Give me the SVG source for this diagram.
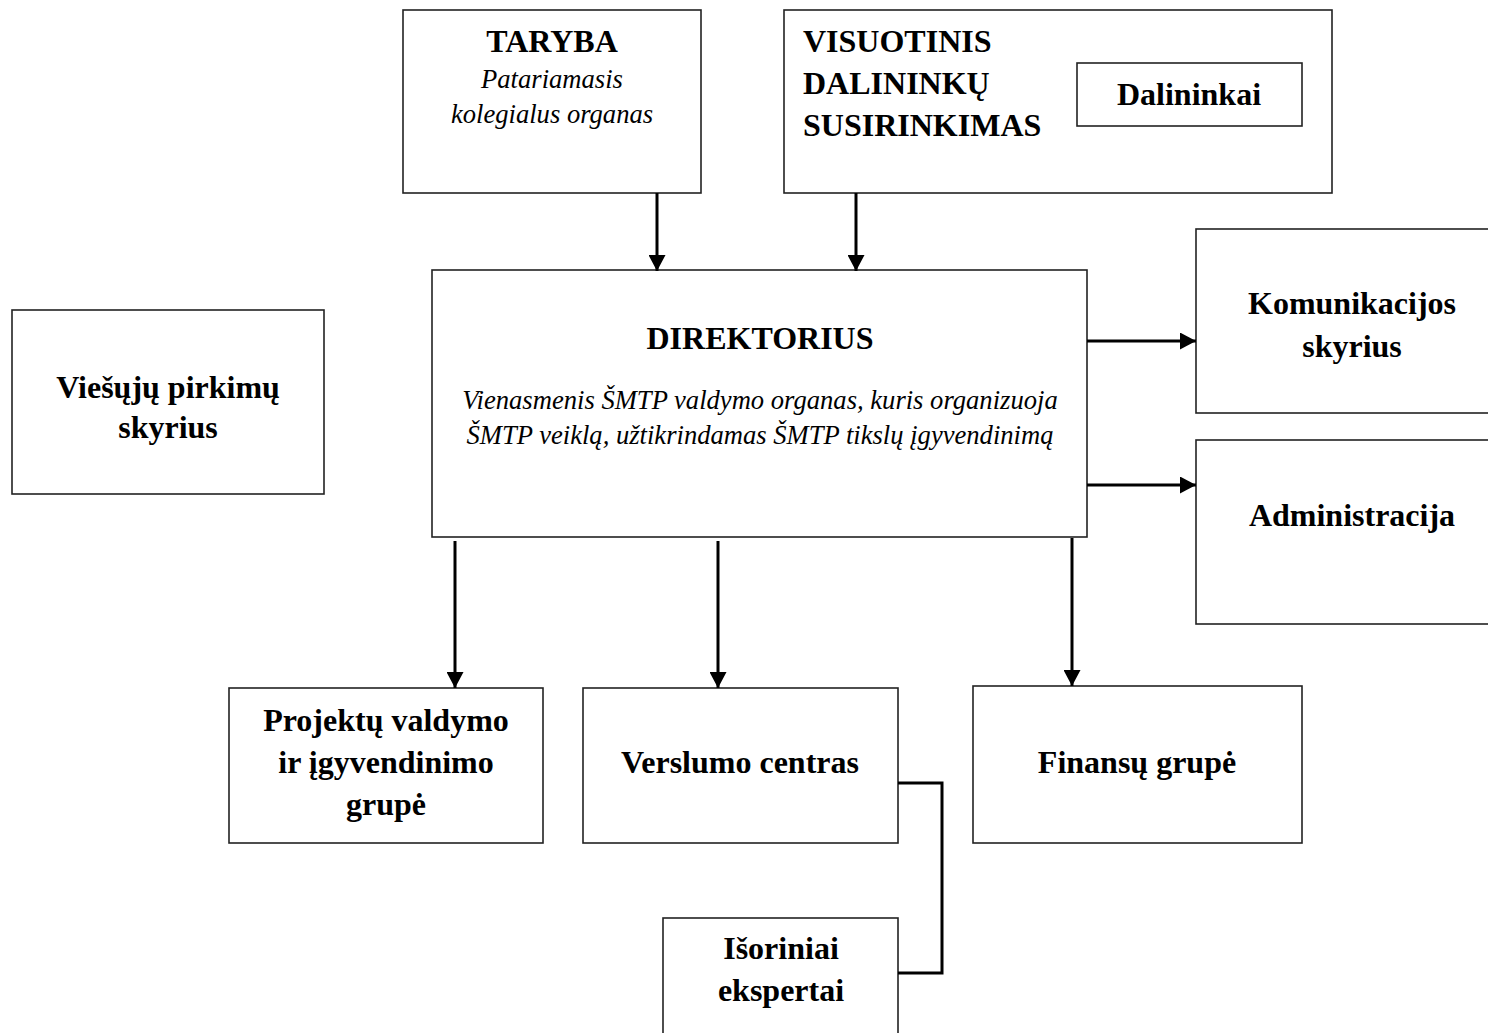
<svg xmlns="http://www.w3.org/2000/svg" width="1488" height="1033" viewBox="0 0 1488 1033">
<style>
.box{fill:#fff;stroke:#222;stroke-width:1.6}
.b{font-family:"Liberation Serif","Times New Roman",serif;font-weight:bold;font-size:32px;fill:#000}
.i{font-family:"Liberation Serif","Times New Roman",serif;font-style:italic;font-size:26.6px;fill:#000}
.c{text-anchor:middle}
.conn{fill:none;stroke:#000;stroke-width:3}
</style>
<defs>
<marker id="ah" markerUnits="userSpaceOnUse" markerWidth="17" markerHeight="17" refX="16" refY="8.5" orient="auto">
<path d="M0,0 L16,8.5 L0,17 z" fill="#000"/>
</marker>
</defs>
<rect width="1488" height="1033" fill="#fff"/>
<g id="taryba">
<rect class="box" x="403" y="10" width="298" height="183"/>
<text class="b c" x="552" y="52">TARYBA</text>
<text class="i c" x="552" y="88">Patariamasis</text>
<text class="i c" x="552" y="123">kolegialus organas</text>
</g>
<g id="visuotinis">
<rect class="box" x="784" y="10" width="548" height="183"/>
<text class="b" x="803" y="52">VISUOTINIS</text>
<text class="b" x="803" y="94">DALININKŲ</text>
<text class="b" x="803" y="136">SUSIRINKIMAS</text>
</g>
<g id="dalininkai">
<rect class="box" x="1077" y="63" width="225" height="63"/>
<text class="b c" x="1189" y="105">Dalininkai</text>
</g>
<g id="direktorius">
<rect class="box" x="432" y="270" width="655" height="267"/>
<text class="b c" x="760" y="349">DIREKTORIUS</text>
<text class="i c" x="760" y="409">Vienasmenis ŠMTP valdymo organas, kuris organizuoja</text>
<text class="i c" x="760" y="444">ŠMTP veiklą, užtikrindamas ŠMTP tikslų įgyvendinimą</text>
</g>
<g id="komunikacijos">
<rect class="box" x="1196" y="229" width="310" height="184"/>
<text class="b c" x="1352" y="314">Komunikacijos</text>
<text class="b c" x="1352" y="357">skyrius</text>
</g>
<g id="administracija">
<rect class="box" x="1196" y="440" width="310" height="184"/>
<text class="b c" x="1352" y="526">Administracija</text>
</g>
<g id="viesuju">
<rect class="box" x="12" y="310" width="312" height="184"/>
<text class="b c" x="168" y="398">Viešųjų pirkimų</text>
<text class="b c" x="168" y="438">skyrius</text>
</g>
<g id="projektu">
<rect class="box" x="229" y="688" width="314" height="155"/>
<text class="b c" x="386" y="731">Projektų valdymo</text>
<text class="b c" x="386" y="773">ir įgyvendinimo</text>
<text class="b c" x="386" y="815">grupė</text>
</g>
<g id="verslumo">
<rect class="box" x="583" y="688" width="315" height="155"/>
<text class="b c" x="740" y="773">Verslumo centras</text>
</g>
<g id="finansu">
<rect class="box" x="973" y="686" width="329" height="157"/>
<text class="b c" x="1137" y="773">Finansų grupė</text>
</g>
<g id="isoriniai">
<rect class="box" x="663" y="918" width="235" height="130"/>
<text class="b c" x="781" y="959">Išoriniai</text>
<text class="b c" x="781" y="1001">ekspertai</text>
</g>
<g id="connectors">
<line class="conn" x1="657" y1="193" x2="657" y2="271" marker-end="url(#ah)"/>
<line class="conn" x1="856" y1="193" x2="856" y2="271" marker-end="url(#ah)"/>
<line class="conn" x1="1087" y1="341" x2="1196" y2="341" marker-end="url(#ah)"/>
<line class="conn" x1="1087" y1="485" x2="1196" y2="485" marker-end="url(#ah)"/>
<line class="conn" x1="455" y1="541" x2="455" y2="688" marker-end="url(#ah)"/>
<line class="conn" x1="718" y1="541" x2="718" y2="688" marker-end="url(#ah)"/>
<line class="conn" x1="1072" y1="538" x2="1072" y2="686" marker-end="url(#ah)"/>
<polyline class="conn" points="898,783 942,783 942,973 898,973"/>
</g>
</svg>
